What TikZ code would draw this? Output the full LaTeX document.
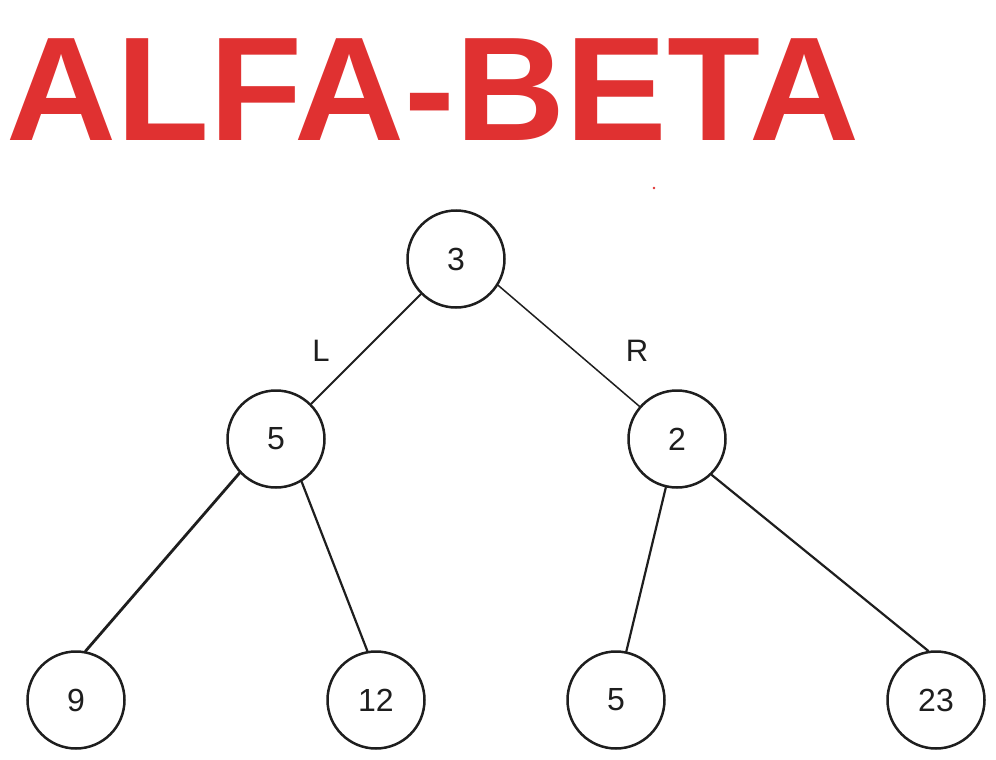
\documentclass[tikz,border=0pt]{standalone}
\usepackage{fontspec}
\setmainfont{Liberation Sans}
\definecolor{titlered}{HTML}{E03131}
\definecolor{ink}{HTML}{1E1E1E}
\begin{document}
\begin{tikzpicture}[x=1pt,y=-1pt,
  tnode/.style={circle, draw=ink, line width=2.5pt, minimum size=97pt, inner sep=0pt,
                font=\fontsize{32}{32}\selectfont, text=ink},
  edge/.style={draw=ink, line width=1.8pt, line cap=round},
  lbl/.style={font=\fontsize{31}{31}\selectfont, text=ink, inner sep=0pt},
  titlestyle/.style={font=\fontsize{148}{148}\selectfont\bfseries, text=titlered, inner sep=0pt, xscale=1.03}]
\useasboundingbox (0,0) rectangle (996,760);
\fill[white] (0,0) rectangle (996,760);

\node[titlestyle] (title) at (433,90) {ALFA-BETA};
\fill[titlered] (654,188) circle (1.3);

\node[tnode] (root) at (456,259) {3};
\node[tnode] (n5) at (276,439) {5};
\node[tnode] (n2) at (677,439) {2};
\node[tnode] (n9) at (76,700) {9};
\node[tnode] (n12) at (376,700) {12};
\node[tnode] (n5b) at (616,700) {5};
\node[tnode] (n23) at (936,700) {23};

\draw[edge] (root.225) -- (n5.45);
\draw[edge, line width=1.5pt] (root.-32) -- (n2.139);
\draw[edge, line width=2.8pt] (n5.-137) -- (n9.79);
\draw[edge, line width=2.2pt] (n5.-59) -- (n12.100);
\draw[edge, line width=2.2pt] (n2.-103) -- (n5b.78);
\draw[edge, line width=2.2pt] (n2.-46) -- (n23.99);

\node[lbl] (labL) at (321,351) {L};
\node[lbl] (labR) at (637,351) {R};
\end{tikzpicture}
\end{document}
